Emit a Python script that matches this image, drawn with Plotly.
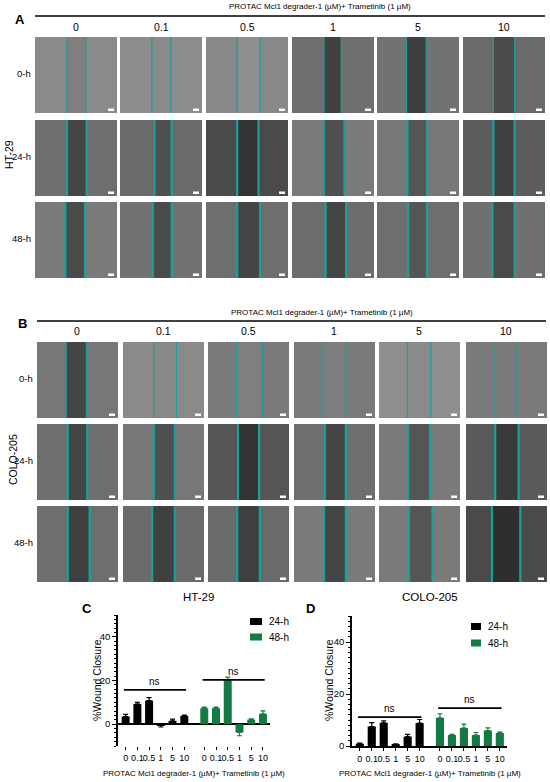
import plotly.graph_objects as go

W, H = 550, 782
FONT = "Liberation Sans, Arial, sans-serif"

# ---------------- data ----------------
conc = ["0", "0.1", "0.5", "1", "5", "10"]
times = ["0-h", "24-h", "48-h"]
series = ["24-h", "48-h"]
header = "PROTAC Mcl1 degrader-1 (µM)+ Trametinib (1 µM)"

# Panel C (HT-29)
c24 = [3.5, 9.2, 10.8, -0.6, 1.5, 3.8]
c24_err = [1.0, 0.8, 1.4, 0.7, 0.8, 0.4]
c48 = [7.3, 7.3, 20.0, -3.8, 2.1, 4.7]
c48_err = [0.5, 0.5, 1.5, 1.5, 0.3, 1.4]
c_ns = [15.7, 20.3]
# Panel D (COLO-205)
d24 = [0.9, 7.5, 8.9, 0.6, 3.6, 8.8]
d24_err = [0.2, 1.5, 0.8, 0.2, 0.9, 1.4]
d48 = [10.8, 4.2, 6.9, 4.2, 5.9, 5.0]
d48_err = [1.6, 0.3, 1.5, 1.0, 1.1, 0.3]
d_ns = [11.1, 14.6]

# microscopy tiles: mean grey of cell area / wound area, wound edges (fraction)
bgA = [[138, 140, 136, 110, 114, 106], [110, 106, 74, 122, 119, 92], [122, 114, 110, 108, 110, 112]]
woundA = [[127, 138, 142, 64, 63, 74], [69, 80, 51, 80, 85, 64], [74, 74, 69, 69, 85, 74]]
edgesA = [[(0.39, 0.62), (0.39, 0.62), (0.38, 0.66), (0.39, 0.60), (0.36, 0.60), (0.37, 0.63)],
          [(0.39, 0.63), (0.42, 0.63), (0.38, 0.64), (0.39, 0.64), (0.37, 0.61), (0.37, 0.63)],
          [(0.37, 0.61), (0.40, 0.63), (0.38, 0.66), (0.41, 0.66), (0.38, 0.61), (0.36, 0.63)]]
bgB = [[119, 138, 122, 122, 142, 122], [110, 119, 85, 110, 122, 90], [110, 106, 106, 122, 122, 74]]
woundB = [[69, 136, 127, 126, 138, 122], [69, 80, 51, 69, 85, 58], [64, 64, 64, 69, 85, 46]]
edgesB = [[(0.36, 0.61), (0.38, 0.66), (0.35, 0.67), (0.36, 0.64), (0.35, 0.64), (0.36, 0.63)],
          [(0.38, 0.62), (0.38, 0.64), (0.37, 0.63), (0.38, 0.64), (0.36, 0.63), (0.36, 0.65)],
          [(0.38, 0.65), (0.36, 0.64), (0.36, 0.64), (0.37, 0.64), (0.37, 0.66), (0.32, 0.67)]]

# ---------------- helpers ----------------
def px(x):
    return x / W

def py(y):
    return 1 - y / H

shapes = []
annotations = []

def text(x, y, s, size=10, **kw):
    d = dict(x=px(x), y=py(y), xref="paper", yref="paper", text=s, showarrow=False,
             xanchor="center", yanchor="middle",
             font=dict(family=FONT, size=size, color="black"))
    d.update(kw)
    annotations.append(d)

def grey(v):
    return f"rgb({v},{v},{v})"

TEAL = "#17a09c"

def tile_panel(col_left, col_w, row_top, row_h, bg, wound, edges):
    for r in range(3):
        for c in range(6):
            x0 = col_left[c]; x1 = x0 + col_w
            y0 = row_top[r]; y1 = y0 + row_h
            shapes.append(dict(type="rect", xref="paper", yref="paper",
                               x0=px(x0), x1=px(x1), y0=py(y1), y1=py(y0),
                               fillcolor=grey(bg[r][c]), line=dict(width=0), layer="above"))
            l, rr = edges[r][c]
            wx0 = x0 + l * col_w; wx1 = x0 + rr * col_w
            shapes.append(dict(type="rect", xref="paper", yref="paper",
                               x0=px(wx0), x1=px(wx1), y0=py(y1), y1=py(y0),
                               fillcolor=grey(wound[r][c]), line=dict(width=0), layer="above"))
            lw = 1.2 if r == 0 else 2.2
            for ex in (wx0, wx1):
                shapes.append(dict(type="line", xref="paper", yref="paper",
                                   x0=px(ex), x1=px(ex), y0=py(y1), y1=py(y0),
                                   line=dict(color=TEAL, width=lw), layer="above"))
            # scale bar
            shapes.append(dict(type="rect", xref="paper", yref="paper",
                               x0=px(x1 - 9), x1=px(x1 - 3), y0=py(y1 - 2), y1=py(y1 - 4.5),
                               fillcolor="white", line=dict(width=0), layer="above"))

# ---------------- panel A ----------------
colA = [35, 120, 206, 292, 377, 463]
rowA = [37, 120, 202]
tile_panel(colA, 82, rowA, 76, bgA, woundA, edgesA)
text(320, 7, header, size=8)
shapes.append(dict(type="line", xref="paper", yref="paper", x0=px(35), x1=px(545), y0=py(16), y1=py(16),
                   line=dict(color="black", width=1.3)))
for c, lab in enumerate(conc):
    text(colA[c] + 41, 27, lab, size=10.5)
for r, lab in enumerate(times):
    text(33, rowA[r] + 36, lab, size=9.5, xanchor="right")
text(9, 155, "HT-29", size=10.5, textangle=-90)
text(20, 20, "<b>A</b>", size=13)

# ---------------- panel B ----------------
colB = [37, 123, 208, 294, 379, 466]
rowB = [342, 424, 506]
tile_panel(colB, 81, rowB, 76, bgB, woundB, edgesB)
text(322, 312, header, size=8)
shapes.append(dict(type="line", xref="paper", yref="paper", x0=px(37), x1=px(546), y0=py(321), y1=py(321),
                   line=dict(color="black", width=1.3)))
for c, lab in enumerate(conc):
    text(colB[c] + 40, 331, lab, size=10.5)
for r, lab in enumerate(times):
    text(35, rowB[r] + 36, lab, size=9.5, xanchor="right")
text(13, 460, "COLO-205", size=10.5, textangle=-90)
text(22, 323, "<b>B</b>", size=13)

# ---------------- bar charts ----------------
GREEN = "#137a43"
COLORS = ["black", GREEN]
g1 = [float(i) for i in range(6)]
g2 = [i + 6.7 for i in range(6)]
tickvals = g1 + g2
ticktext = conc + conc

fig = go.Figure()

def add_bars(xa, ya, v24, e24, v48, e48):
    for vals, errs, xs, col, name in ((v24, e24, g1, COLORS[0], series[0]), (v48, e48, g2, COLORS[1], series[1])):
        plus = [e if v >= 0 else 0 for v, e in zip(vals, errs)]
        minus = [e if v < 0 else 0 for v, e in zip(vals, errs)]
        fig.add_trace(go.Bar(x=xs, y=vals, xaxis=xa, yaxis=ya, name=name, marker_color=col,
                             marker_line_width=0, width=0.68, showlegend=False,
                             error_y=dict(type="data", symmetric=False, array=plus, arrayminus=minus,
                                          color=col, thickness=1.2, width=2.5)))

add_bars("x", "y", c24, c24_err, c48, c48_err)
add_bars("x2", "y2", d24, d24_err, d48, d48_err)

def ns_marks(xref, yref, levels):
    for grp, lev in zip((g1, g2), levels):
        shapes.append(dict(type="line", xref=xref, yref=yref, x0=grp[0] - 0.15, x1=grp[-1] + 0.15,
                           y0=lev, y1=lev, line=dict(color="black", width=1.8)))
        annotations.append(dict(x=(grp[0] + grp[-1]) / 2, y=lev, xref=xref, yref=yref, text="ns",
                                showarrow=False, xanchor="center", yanchor="bottom", yshift=1,
                                font=dict(family=FONT, size=10, color="black")))

ns_marks("x", "y", c_ns)
ns_marks("x2", "y2", d_ns)

def legend_box(x, y_first, dy, bw, bh):
    for i, (name, col) in enumerate(zip(series, COLORS)):
        yc = y_first + i * dy
        shapes.append(dict(type="rect", xref="paper", yref="paper",
                           x0=px(x), x1=px(x + bw), y0=py(yc + bh / 2), y1=py(yc - bh / 2),
                           fillcolor=col, line=dict(width=0)))
        text(x + bw + 5, yc, name, size=10, xanchor="left")

legend_box(250, 621.5, 15.5, 12, 7)
legend_box(471, 626.5, 16.5, 10, 7)

xcommon = dict(tickmode="array", tickvals=tickvals, ticktext=ticktext, range=[-0.65, 12.3],
               showgrid=False, zeroline=False, ticks="outside", ticklen=3, tickcolor="black",
               tickangle=0, automargin=False,
               tickfont=dict(family=FONT, size=9, color="black"))
ycommon = dict(showgrid=False, showline=True, linecolor="black", linewidth=1.5, ticks="outside",
               ticklen=4, tickcolor="black", dtick=20, automargin=False,
               tickfont=dict(family=FONT, size=9.5, color="black"),
               minor=dict(dtick=2, ticks="outside", ticklen=2.5, tickcolor="black"))

fig.update_layout(
    width=W, height=H, margin=dict(l=0, r=0, t=0, b=0, autoexpand=False),
    paper_bgcolor="white", plot_bgcolor="white", barmode="overlay", showlegend=False,
    font=dict(family=FONT, color="black"),
    xaxis=dict(domain=[px(118), px(270)], anchor="y", showline=False, **xcommon),
    yaxis=dict(domain=[py(746), py(615)], anchor="x", range=[-10, 50], zeroline=True,
               zerolinecolor="black", zerolinewidth=1.5, **ycommon),
    xaxis2=dict(domain=[px(352), px(507)], anchor="y2", showline=True, linecolor="black", linewidth=1.5,
                **xcommon),
    yaxis2=dict(domain=[py(746), py(616)], anchor="x2", range=[0, 50], zeroline=False, **ycommon),
    shapes=shapes,
)

text(198, 597, "HT-29", size=11.5)
text(430, 597, "COLO-205", size=11.5)
text(87, 608, "<b>C</b>", size=13)
text(310, 608, "<b>D</b>", size=13)
text(97, 680, "%Wound Closure", size=10.5, textangle=-90)
text(329, 680, "%Wound Closure", size=10.5, textangle=-90)
text(194, 773, header, size=8)
text(430, 773, header, size=8)
fig.update_layout(annotations=list(fig.layout.annotations) + annotations)

fig.write_html("out.html", config={"displayModeBar": False},
               post_script="document.body.style.margin='0';document.documentElement.style.margin='0';")
